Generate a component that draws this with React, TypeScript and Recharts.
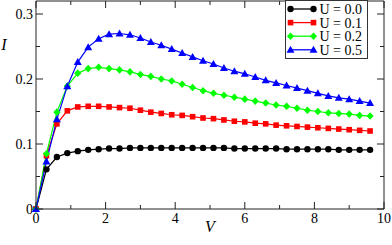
import React from 'react';
import { LineChart, Line, XAxis, YAxis, Legend, ReferenceArea } from 'recharts';

const vValues = [0, 0.3, 0.6, 0.9, 1.2, 1.5, 1.8, 2.1, 2.4, 2.7, 3.0, 3.3, 3.6, 3.9, 4.2, 4.5, 4.8, 5.1, 5.4, 5.7, 6.0, 6.3, 6.6, 6.9, 7.2, 7.5, 7.8, 8.1, 8.4, 8.7, 9.0, 9.3, 9.6];
const u00 = [0, 0.061, 0.080, 0.086, 0.089, 0.091, 0.092, 0.093, 0.093, 0.094, 0.094, 0.094, 0.094, 0.094, 0.094, 0.094, 0.094, 0.094, 0.094, 0.093, 0.093, 0.093, 0.093, 0.093, 0.092, 0.092, 0.092, 0.092, 0.092, 0.091, 0.091, 0.091, 0.091];
const u01 = [0, 0.082, 0.131, 0.151, 0.157, 0.158, 0.158, 0.157, 0.156, 0.155, 0.152, 0.149, 0.147, 0.145, 0.144, 0.142, 0.140, 0.139, 0.137, 0.135, 0.134, 0.132, 0.131, 0.129, 0.128, 0.127, 0.126, 0.125, 0.124, 0.123, 0.122, 0.121, 0.120];
const u02 = [0, 0.085, 0.149, 0.189, 0.209, 0.216, 0.218, 0.216, 0.214, 0.211, 0.207, 0.204, 0.200, 0.197, 0.192, 0.187, 0.182, 0.178, 0.175, 0.172, 0.169, 0.166, 0.163, 0.160, 0.158, 0.155, 0.152, 0.150, 0.148, 0.147, 0.146, 0.144, 0.143];
const u05 = [0, 0.073, 0.138, 0.189, 0.226, 0.249, 0.262, 0.269, 0.270, 0.268, 0.263, 0.257, 0.252, 0.246, 0.240, 0.234, 0.228, 0.223, 0.217, 0.212, 0.208, 0.203, 0.198, 0.194, 0.190, 0.186, 0.182, 0.178, 0.174, 0.171, 0.169, 0.166, 0.163];

const seriesNames = ['U = 0.0', 'U = 0.1', 'U = 0.2', 'U = 0.5'];
const seriesKeys = ['u00', 'u01', 'u02', 'u05'];
const seriesColors = ['#000000', '#ff0000', '#00ff00', '#0000ff'];
const seriesMarkers = ['circle', 'square', 'diamond', 'triangle'];

const xTicks = [0, 1, 2, 3, 4, 5, 6, 7, 8, 9, 10];
const xMajor = [0, 2, 4, 6, 8, 10];
const yTicks = [0, 0.05, 0.1, 0.15, 0.2, 0.25, 0.3];
const yMajor = [0, 0.1, 0.2, 0.3];
const yLabels: Record<string, string> = { '0': '0', '0.1': '0.1', '0.2': '0.2', '0.3': '0.3' };

const data = vValues.map((v, i) => ({ v, u00: u00[i], u01: u01[i], u02: u02[i], u05: u05[i] }));

const W = 392;
const H = 245;
const M_TOP = 1;
const M_RIGHT = 8;
const X_H = 36;
const Y_W = 36;
const PLOT_LEFT = Y_W;
const PLOT_RIGHT = W - M_RIGHT;
const PLOT_TOP = M_TOP;
const PLOT_BOTTOM = H - X_H;
const FONT = '"Liberation Serif", "DejaVu Serif", serif';

function Marker({ kind, cx, cy, color }: { kind: string; cx: number; cy: number; color: string }) {
  if (kind === 'circle') return <circle cx={cx} cy={cy} r={3.2} fill={color} stroke="none" />;
  if (kind === 'square') return <rect x={cx - 2.8} y={cy - 2.8} width={5.6} height={5.6} fill={color} stroke="none" />;
  if (kind === 'diamond')
    return <polygon points={`${cx},${cy - 3.8} ${cx + 3.6},${cy} ${cx},${cy + 3.8} ${cx - 3.6},${cy}`} fill={color} stroke="none" />;
  return <polygon points={`${cx},${cy - 4} ${cx + 4},${cy + 3} ${cx - 4},${cy + 3}`} fill={color} stroke="none" />;
}

const XTick = (props: any) => {
  const { x, payload } = props;
  const v = payload.value;
  const major = xMajor.includes(v);
  const len = major ? 7 : 4;
  return (
    <g>
      <line x1={x} x2={x} y1={PLOT_BOTTOM} y2={PLOT_BOTTOM - len} stroke="#222" strokeWidth={1} />
      <line x1={x} x2={x} y1={PLOT_TOP} y2={PLOT_TOP + len} stroke="#222" strokeWidth={1} />
      {major && (
        <text x={x} y={PLOT_BOTTOM + 13.5} textAnchor="middle" fontFamily={FONT} fontSize={14} fill="#000">
          {String(v)}
        </text>
      )}
    </g>
  );
};

const YTick = (props: any) => {
  const { y, payload } = props;
  const v = payload.value;
  const major = yMajor.includes(v);
  const len = major ? 7 : 4;
  return (
    <g>
      <line x1={PLOT_LEFT} x2={PLOT_LEFT + len} y1={y} y2={y} stroke="#222" strokeWidth={1} />
      <line x1={PLOT_RIGHT} x2={PLOT_RIGHT - len} y1={y} y2={y} stroke="#222" strokeWidth={1} />
      {major && (
        <text x={PLOT_LEFT - 3} y={y + 5} textAnchor="end" fontFamily={FONT} fontSize={14} fill="#000">
          {yLabels[String(v)]}
        </text>
      )}
    </g>
  );
};

const LegendBox = () => (
  <svg width={84} height={60} style={{ display: 'block' }}>
    <rect x={0.5} y={0.5} width={82} height={58} fill="#fff" stroke="#333" strokeWidth={1} />
    {seriesNames.map((name, i) => {
      const cy = 9 + i * 13.6;
      return (
        <g key={name}>
          <line x1={5.5} x2={28.5} y1={cy} y2={cy} stroke={seriesColors[i]} strokeWidth={1.3} />
          <Marker kind={seriesMarkers[i]} cx={5.5} cy={cy} color={seriesColors[i]} />
          <Marker kind={seriesMarkers[i]} cx={28.5} cy={cy} color={seriesColors[i]} />
          <text x={34.5} y={cy + 5} fontFamily={FONT} fontSize={14} fill="#000">
            {name}
          </text>
        </g>
      );
    })}
  </svg>
);

export default function App() {
  return (
    <div style={{ position: 'fixed', left: 0, top: 0, width: W, height: H, background: '#fff' }}>
      <LineChart width={W} height={H} data={data} margin={{ top: M_TOP, right: M_RIGHT, bottom: 0, left: 0 }}>
        <XAxis
          dataKey="v"
          type="number"
          domain={[0, 10]}
          ticks={xTicks}
          interval={0}
          height={X_H}
          tickLine={false}
          axisLine={false}
          tick={XTick}
          label={{
            content: (p: any) => (
              <text x={p.viewBox.x + p.viewBox.width / 2} y={p.viewBox.y + 22.5} textAnchor="middle" fontFamily={FONT} fontStyle="italic" fontSize={16} fill="#000">
                V
              </text>
            ),
          }}
        />
        <YAxis
          type="number"
          domain={[0, 0.32]}
          ticks={yTicks}
          interval={0}
          width={Y_W}
          tickLine={false}
          axisLine={false}
          tick={YTick}
          label={{
            content: () => (
              <text x={4} y={50} textAnchor="middle" fontFamily={FONT} fontStyle="italic" fontSize={16} fill="#000">
                I
              </text>
            ),
          }}
        />
        <ReferenceArea x1={0} x2={10} y1={0} y2={0.32} fill="none" stroke="#222" strokeWidth={1} ifOverflow="visible" />
        {seriesKeys.map((k, i) => (
          <Line
            key={k}
            dataKey={k}
            name={seriesNames[i]}
            stroke={seriesColors[i]}
            strokeWidth={1.2}
            isAnimationActive={false}
            dot={(p: any) => <Marker key={`${k}-${p.index}`} kind={seriesMarkers[i]} cx={p.cx} cy={p.cy} color={seriesColors[i]} />}
            activeDot={false}
          />
        ))}
        <Legend
          layout="vertical"
          align="center"
          verticalAlign="middle"
          content={() => <LegendBox />}
          wrapperStyle={{ top: 0, left: 285, width: 84, height: 60 }}
        />
      </LineChart>
    </div>
  );
}
